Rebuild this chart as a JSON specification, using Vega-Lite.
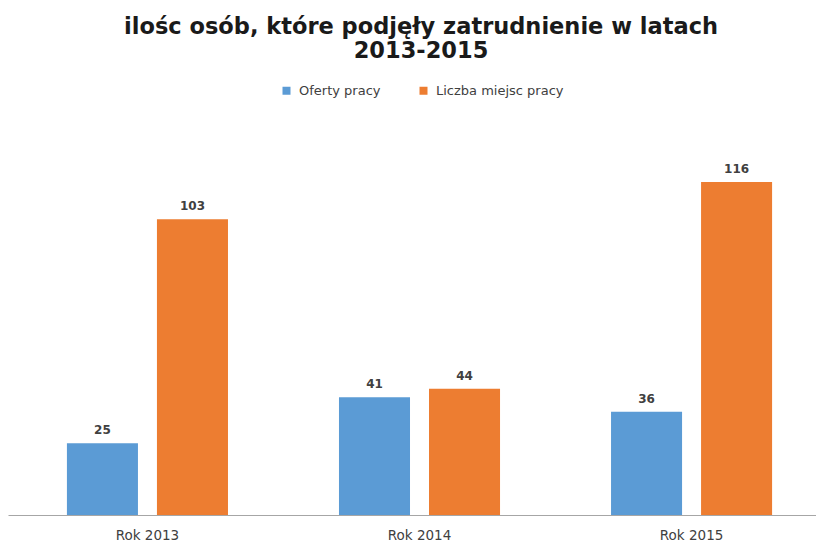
{
  "$schema": "https://vega.github.io/schema/vega-lite/v6.json",
  "width": 808,
  "height": 402,
  "autosize": {"type": "none"},
  "padding": {"top": 113, "left": 8, "right": 0, "bottom": 27},
  "background": "white",
  "title": {
    "text": ["ilośc osób, które podjęły zatrudnienie w latach", "2013-2015"],
    "font": "DejaVu Sans",
    "fontSize": 22.5,
    "fontWeight": "bold",
    "color": "#1a1a1a",
    "lineHeight": 24,
    "anchor": "middle",
    "dx": 9,
    "offset": 22
  },
  "config": {
    "view": {"stroke": null},
    "font": "DejaVu Sans"
  },
  "data": {
    "values": [
      {"rok": "Rok 2013", "seria": "Oferty pracy", "wartosc": 25},
      {"rok": "Rok 2013", "seria": "Liczba miejsc pracy", "wartosc": 103},
      {"rok": "Rok 2014", "seria": "Oferty pracy", "wartosc": 41},
      {"rok": "Rok 2014", "seria": "Liczba miejsc pracy", "wartosc": 44},
      {"rok": "Rok 2015", "seria": "Oferty pracy", "wartosc": 36},
      {"rok": "Rok 2015", "seria": "Liczba miejsc pracy", "wartosc": 116}
    ]
  },
  "encoding": {
    "x": {
      "field": "rok",
      "type": "nominal",
      "scale": {"paddingInner": 0.408, "paddingOuter": 0.189, "align": 0.573},
      "axis": {
        "title": null,
        "labelAngle": 0,
        "labelFont": "DejaVu Sans",
        "labelFontSize": 13.5,
        "labelColor": "#404040",
        "labelPadding": 13,
        "ticks": false,
        "domainColor": "#a6a6a6",
        "domainWidth": 1.2
      }
    },
    "xOffset": {
      "field": "seria",
      "type": "nominal",
      "scale": {"domain": ["Oferty pracy", "Liczba miejsc pracy"], "paddingInner": 0.211, "paddingOuter": 0}
    },
    "y": {
      "field": "wartosc",
      "type": "quantitative",
      "scale": {"domain": [0, 140]},
      "axis": null
    }
  },
  "layer": [
    {
      "mark": {"type": "bar"},
      "encoding": {
        "color": {
          "field": "seria",
          "type": "nominal",
          "scale": {"domain": ["Oferty pracy", "Liczba miejsc pracy"], "range": ["#5b9bd5", "#ed7d31"]},
          "legend": {
            "title": null,
            "orient": "none",
            "legendX": 272,
            "legendY": -29,
            "direction": "horizontal",
            "symbolType": "square",
            "symbolSize": 64,
            "symbolStrokeWidth": 0,
            "labelFont": "DejaVu Sans",
            "labelFontSize": 13,
            "labelColor": "#404040",
            "labelOffset": 6,
            "columnPadding": 36
          }
        }
      }
    },
    {
      "mark": {"type": "text", "baseline": "bottom", "dy": -6, "fontSize": 12, "fontWeight": "bold", "color": "#404040", "font": "DejaVu Sans"},
      "encoding": {
        "text": {"field": "wartosc", "type": "quantitative"}
      }
    }
  ]
}
